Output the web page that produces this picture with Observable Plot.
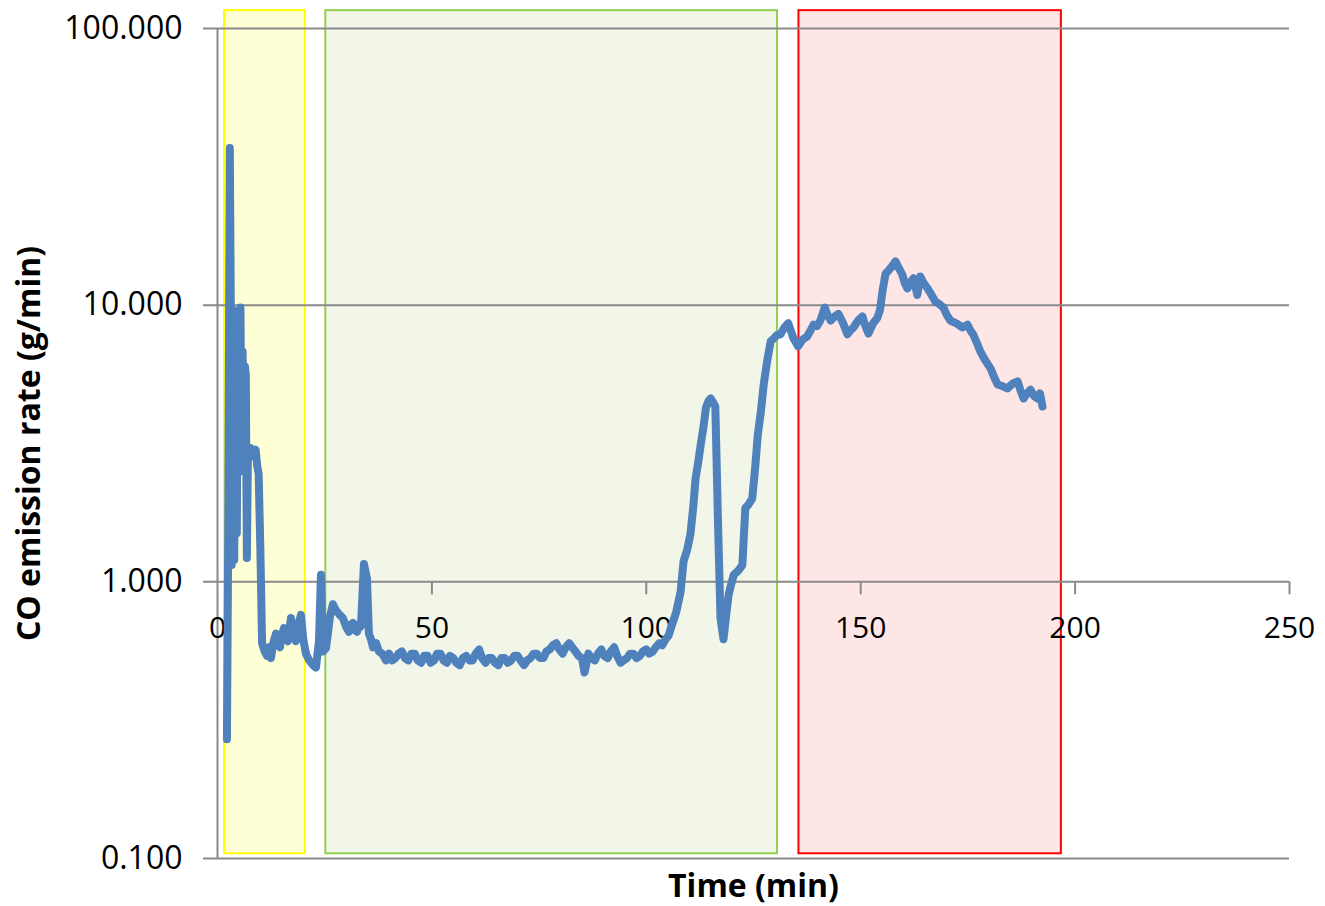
<!DOCTYPE html>
<html>
<head>
<meta charset="utf-8">
<script src="https://cdn.jsdelivr.net/npm/d3@7"></script>
<script src="https://cdn.jsdelivr.net/npm/@observablehq/plot@0.6"></script>
<style>
  html, body { margin: 0; padding: 0; background: #ffffff; }
  #chart svg { display: block; }
</style>
</head>
<body>
<div id="chart"></div>
<script>
// ---- Data ----
const time = [
  2.2, 2.45, 2.87, 3.1, 3.3, 3.6, 3.9, 4.2, 4.5, 4.8, 5.1, 5.35, 5.6, 5.85, 6.1, 6.4, 6.6, 6.85, 7.1, 7.4, 7.7,
  8.3, 8.9, 9.3, 9.6, 10.0, 10.4,
  11.0, 11.54, 12.0, 12.47, 13.0, 13.64, 14.1, 14.57, 15.0, 15.5, 16.0, 16.43, 17.13, 17.7, 18.3, 18.9, 19.46,
  20.0, 20.63, 21.4, 22.26, 22.96, 23.66, 24.13, 24.59,
  25.29, 25.8, 26.22, 26.92, 27.4, 27.86, 28.5, 29.25, 29.95, 30.65, 31.1, 31.59, 32.0, 32.52, 33.0, 33.45,
  34.15, 34.85, 35.31, 35.8, 36.25, 37.0, 37.65, 38.4, 39.28,
  40, 40.7, 41.5, 42.2, 43, 43.7, 44.5, 45.2, 46, 46.7, 47.5, 48.2, 49, 49.7, 50.5, 51.2, 52, 52.7, 53.5,
  54.2, 55, 55.7, 56.5, 57.2, 58, 58.7, 59.5, 60.2, 61, 61.7, 62.5, 63.2, 64, 64.7, 65.5, 66.2, 67, 67.7,
  68.5, 69.2, 70, 70.7, 71.5, 72.2, 73, 73.7, 74.5, 75.2, 76, 76.7, 77.5, 78.2, 79, 79.7, 80.5, 81.2, 82,
  82.7, 83.5, 84.2, 85, 85.6, 86.5, 87.2, 88, 88.7, 89.5, 90.2, 91, 91.7, 92.5, 93.2, 94, 94.7, 95.5,
  96.2, 97, 97.7, 98.5, 99.2, 100, 100.7, 101.5, 102.2, 103, 103.7, 104.5, 105.2, 106, 107,
  108.0, 108.7, 109.5, 110.3, 111.0, 111.5, 112.1, 112.7, 113.3, 113.9, 114.5, 115.0, 115.6, 116.1, 116.7,
  117.3, 118.0, 118.6, 119.2, 119.8, 120.4, 121.0, 121.5, 122.4, 123.1, 123.8, 124.7, 125.4, 126.0,
  126.7, 127.4, 128.2, 129.0, 129.8, 130.5, 131.3, 132.2, 133.1, 134.3, 135.4, 136.4, 137.5, 138.3, 139.0,
  139.8, 140.6, 141.6, 142.3, 143.0, 143.9, 144.8, 145.9, 146.9, 147.6, 148.3, 149.4, 150.4, 151.1, 151.8,
  152.9, 153.9, 154.5, 155.1, 155.8, 156.6, 157.4, 158.1, 158.9, 159.7, 160.3, 160.9, 161.6, 162.3, 163.2,
  163.9, 164.7, 165.6, 166.5, 167.4, 168.3, 169.3, 170.1, 170.9, 172.3, 173.7, 174.9, 175.6, 176.3, 177.1,
  177.9, 179.1, 180.3, 181.1, 181.9, 183.0, 184.2, 185.4, 186.6, 187.3, 188.0, 188.8, 189.6, 190.4, 191.2,
  191.8, 192.4
];
const coRate = [
  0.27, 1.1, 37, 10, 1.15, 9.6, 1.2, 8.5, 1.5, 9.5, 2.5, 9.8, 3.2, 6.8, 4.0, 6.0, 5.6, 1.22, 3.0, 2.8, 3.05,
  2.9, 3.0, 2.6, 2.45, 1.3, 0.6,
  0.56, 0.54, 0.58, 0.53, 0.6, 0.65, 0.6, 0.58, 0.64, 0.68, 0.63, 0.61, 0.74, 0.66, 0.61, 0.7, 0.76,
  0.62, 0.55, 0.52, 0.50, 0.49, 0.61, 1.06, 0.56,
  0.575, 0.66, 0.75, 0.83, 0.8, 0.78, 0.76, 0.74, 0.69, 0.66, 0.7, 0.71, 0.67, 0.66, 0.7, 0.69,
  1.16, 1.03, 0.65, 0.62, 0.58, 0.6, 0.56, 0.55, 0.52,
  0.55, 0.52, 0.53, 0.55, 0.56, 0.53, 0.52, 0.55, 0.55, 0.52, 0.51, 0.54, 0.54, 0.51, 0.52, 0.55, 0.55, 0.52, 0.51,
  0.54, 0.53, 0.51, 0.50, 0.53, 0.54, 0.52, 0.52, 0.55, 0.57, 0.53, 0.51, 0.53, 0.53, 0.51, 0.50, 0.53, 0.53, 0.51,
  0.52, 0.54, 0.54, 0.52, 0.50, 0.52, 0.53, 0.55, 0.55, 0.53, 0.53, 0.56, 0.57, 0.59, 0.60, 0.57, 0.55, 0.58, 0.60,
  0.58, 0.56, 0.54, 0.53, 0.47, 0.55, 0.53, 0.52, 0.55, 0.57, 0.54, 0.53, 0.56, 0.58, 0.54, 0.51, 0.52, 0.53,
  0.55, 0.55, 0.53, 0.54, 0.56, 0.57, 0.55, 0.56, 0.58, 0.60, 0.59, 0.62, 0.64, 0.70, 0.78,
  0.92, 1.19, 1.3, 1.49, 1.9, 2.37, 2.7, 3.14, 3.6, 4.25, 4.5, 4.6, 4.45, 4.3, 1.7,
  0.74, 0.62, 0.75, 0.90, 0.98, 1.06, 1.08, 1.10, 1.15, 1.85, 1.9, 2.0, 2.6, 3.4,
  4.1, 5.2, 6.3, 7.4, 7.6, 7.8, 7.85, 8.3, 8.6, 7.6, 7.1, 7.5, 7.7, 8.1, 8.5,
  8.4, 8.8, 9.8, 9.2, 8.8, 9.1, 9.3, 8.6, 7.85, 8.1, 8.3, 8.8, 9.1, 8.4, 7.9,
  8.6, 9.0, 9.6, 11.3, 13.0, 13.4, 13.9, 14.4, 13.6, 12.9, 12.0, 11.5, 12.1, 12.5, 10.9,
  12.7, 12.0, 11.5, 10.9, 10.3, 10.1, 9.8, 9.2, 8.8, 8.6, 8.3, 8.5, 8.1, 7.8, 7.3,
  6.8, 6.3, 5.9, 5.5, 5.17, 5.1, 5.0, 5.2, 5.3, 4.9, 4.6, 4.8, 4.95, 4.7, 4.6,
  4.8, 4.3
];

// Shaded phases (time bounds, minutes)
const zoneStart = [1.63, 25.26, 135.6];
const zoneEnd   = [20.5, 130.6, 196.8];
const zoneLow  = 0.104;
const zoneHigh = 116;

// Axis ticks
const xTicks = [0, 50, 100, 150, 200, 250];
const yTicks = [0.1, 1, 10, 100];
const xAxisCross = 1;
const xTitle = "Time (min)";
const yTitle = "CO emission rate (g/min)";

// ---- Styles ----
const zoneFill   = ["#FFFFD6", "#F1F6E8", "#FFE6E6"];
const zoneStroke = ["#FFFF00", "#92D050", "#FF0000"];
const gridColor = "#8A8A8A";
const lineColor = "#4F81BD";
const fontFamily = "'Open Sans', sans-serif";

const series = time.map((t, i) => ({t, v: coRate[i]}));
const zones = zoneStart.map((s, i) => ({s, e: zoneEnd[i], fill: zoneFill[i], stroke: zoneStroke[i]}));

const chart = Plot.plot({
  width: 1325,
  height: 906,
  marginLeft: 217,
  marginRight: 36,
  marginTop: 28,
  marginBottom: 48,
  style: {fontFamily, background: "#ffffff", color: "#000"},
  x: {domain: [0, 250], axis: null},
  y: {type: "log", domain: [0.1, 100], axis: null},
  marks: [
    Plot.rect(zones, {
      x1: "s", x2: "e", y1: () => zoneLow, y2: () => zoneHigh,
      fill: "fill", stroke: "stroke", strokeWidth: 2
    }),
    // horizontal gridlines (extend left as tick marks)
    Plot.ruleY(yTicks, {x1: 0, x2: 250, insetLeft: -14, stroke: gridColor, strokeWidth: 2}),
    // vertical y-axis line
    Plot.ruleX([0], {stroke: gridColor, strokeWidth: 2}),
    // x-axis tick marks at y = 1
    Plot.ruleX(xTicks.slice(1), {x: d => d, y1: () => xAxisCross, y2: () => xAxisCross, insetBottom: -13, stroke: gridColor, strokeWidth: 2}),
    // y tick labels
    Plot.text(yTicks, {x: () => 0, y: d => d, text: d => d3.format(".3f")(d), textAnchor: "end", dx: -35, fontSize: 32, fill: "#000"}),
    // x tick labels
    Plot.text(xTicks, {x: d => d, y: () => xAxisCross, text: d => String(d), dy: 47, fontSize: 30, fill: "#000"}),
    // the series
    Plot.line(series, {x: "t", y: "v", stroke: lineColor, strokeWidth: 8, strokeLinejoin: "round", strokeLinecap: "round"}),
    // titles
    Plot.text([xTitle], {frameAnchor: "bottom", text: d => d, dy: 28, lineAnchor: "middle", fontSize: 32, fontWeight: "bold", fill: "#000"}),
    Plot.text([yTitle], {frameAnchor: "left", text: d => d, dx: -188, rotate: -90, textAnchor: "middle", lineAnchor: "middle", fontSize: 32, fontWeight: "bold", fill: "#000"})
  ]
});
document.getElementById("chart").appendChild(chart);
</script>
</body>
</html>
